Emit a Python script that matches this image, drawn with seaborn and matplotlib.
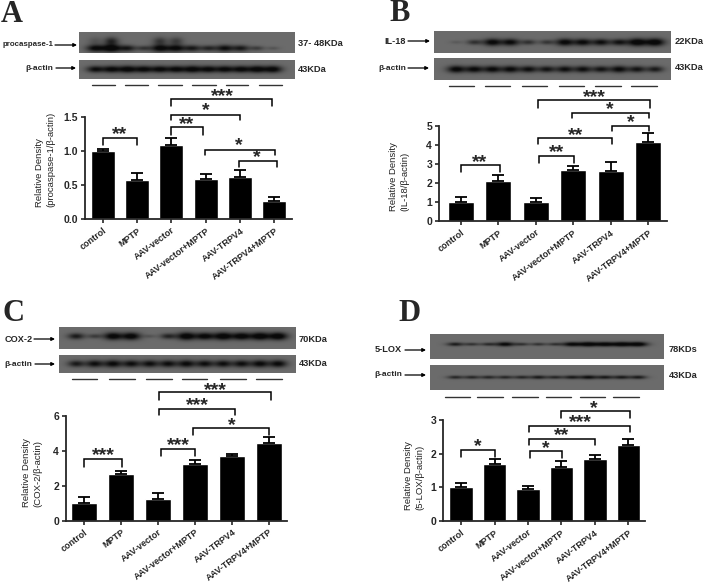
import numpy as np
import pandas as pd
import matplotlib
matplotlib.use('Agg')
import matplotlib.pyplot as plt
import seaborn as sns

sns.set_style('ticks')
plt.rcParams['font.family'] = ['Liberation Sans', 'DejaVu Sans']

W, H = 706, 586

groups = ['control', 'MPTP', 'AAV-vector', 'AAV-vector+MPTP', 'AAV-TRPV4', 'AAV-TRPV4+MPTP']

# bar heights and top of the error bars
a_values = [1.00, 0.575, 1.09, 0.59, 0.62, 0.26]
a_tops = [1.03, 0.67, 1.19, 0.66, 0.72, 0.32]
b_values = [1.00, 2.13, 1.02, 2.66, 2.64, 4.16]
b_tops = [1.28, 2.40, 1.19, 2.92, 3.08, 4.62]
c_values = [1.00, 2.67, 1.22, 3.24, 3.70, 4.44]
c_tops = [1.37, 2.86, 1.58, 3.45, 3.83, 4.76]
d_values = [1.00, 1.68, 0.94, 1.59, 1.84, 2.27]
d_tops = [1.13, 1.83, 1.05, 1.78, 1.95, 2.43]

a_ticks = ['0.0', '0.5', '1.0', '1.5']
b_ticks = ['0', '1', '2', '3', '4', '5']
c_ticks = ['0', '2', '4', '6']
d_ticks = ['0', '1', '2', '3']

# band darkness per lane on the blots
a_bands = [0.85, 1.0, 0.7, 0.45, 0.9, 0.85, 0.7, 0.6, 0.8, 0.7, 0.4, 0.2]
a_smear = [0.2, 0.6, 0, 0, 0.45, 0.4, 0, 0, 0, 0, 0, 0]
a_actin = [0.8, 0.85, 0.9, 0.85, 0.85, 0.85, 0.9, 0.85, 0.85, 0.85, 0.9, 0.9]
b_bands = [0.15, 0.5, 0.9, 0.85, 0.5, 0.45, 0.9, 0.85, 0.8, 0.75, 1.0, 1.0]
b_actin = [0.9, 0.85, 0.85, 0.85, 0.8, 0.75, 0.8, 0.8, 0.75, 0.85, 0.75, 0.7]
c_bands = [0.7, 0.4, 0.95, 0.95, 0.2, 0.6, 1.0, 0.9, 1.0, 0.95, 1.0, 1.0]
c_actin = [0.7, 0.8, 0.85, 0.8, 0.8, 0.8, 0.85, 0.8, 0.8, 0.8, 0.85, 0.85]
d_bands = [0.7, 0.5, 0.55, 0.9, 0.5, 0.5, 0.5, 0.9, 1.0, 0.95, 1.0, 1.0]
d_actin = [0.6, 0.6, 0.6, 0.6, 0.6, 0.7, 0.6, 0.7, 0.8, 0.7, 0.7, 0.7]

# everything below this comment is layout in picture pixels
panels = [
    dict(letter='A', letter_pos=(1, 22), values=a_values, tops=a_tops, ticks=a_ticks, ymax=1.5,
         axes=(85, 292, 116.7, 219), xlim=(-0.52, 5.52),
         ylabel='Relative Density\n(procaspase-1/β-actin)', ylabel_pos=(45, 159),
         blot=(79, 295, 32, 53, 48), actin=(79, 295, 60, 79, 69), lanes=(95, 273),
         bands=a_bands, smear=a_smear, actin_bands=a_actin,
         name='procaspase-1', name_size=5.7, name_pos=(54, 45), arrow=(55, 77),
         actin_pos=(53, 68), actin_arrow=(56, 76),
         kda='37- 48KDa', kda_pos=(298, 44), kda2_pos=(298, 69),
         lines=[(92, 115), (125, 148), (158, 182), (192, 216), (226, 248), (259, 282)], line_y=85,
         brackets=[(171, 272, 99, 106, '***', 222, 93), (171, 240, 115, 120, '*', 206, 107),
                   (171, 203, 127, 135, '**', 187, 121), (103, 137, 138, 145, '**', 120, 131),
                   (205, 275, 150, 155, '*', 239, 142), (239, 277, 161, 167, '*', 257, 154)]),
    dict(letter='B', letter_pos=(389, 21), values=b_values, tops=b_tops, ticks=b_ticks, ymax=5,
         axes=(439, 667, 126, 221), xlim=(-0.58, 5.5),
         ylabel='Relative Density\n(IL-18/β-actin)', ylabel_pos=(399, 177),
         blot=(434, 671, 31, 53, 42), actin=(434, 671, 58, 80, 69), lanes=(456, 655),
         bands=b_bands, smear=None, actin_bands=b_actin,
         name='IL-18', name_size=6.6, name_pos=(406, 41), arrow=(408, 430),
         actin_pos=(406, 68), actin_arrow=(408, 429),
         kda='22KDa', kda_pos=(675, 41), kda2_pos=(675, 68),
         lines=[(449, 474), (485, 510), (522, 547), (559, 584), (595, 621), (631, 657)], line_y=86,
         brackets=[(538, 650, 100, 108, '***', 594, 94), (572, 649, 113, 118, '*', 610, 106),
                   (612, 649, 126, 131, '*', 631, 119), (538, 612, 138, 144, '**', 576, 132),
                   (539, 574, 156, 163, '**', 557, 149), (461, 500, 165, 172, '**', 480, 159)]),
    dict(letter='C', letter_pos=(2, 321), values=c_values, tops=c_tops, ticks=c_ticks, ymax=6,
         axes=(66, 287, 415.7, 520.7), xlim=(-0.49, 5.49),
         ylabel='Relative Density\n(COX-2/β-actin)', ylabel_pos=(32, 473),
         blot=(59, 296, 327, 349, 336), actin=(59, 296, 355, 373, 364), lanes=(76, 278),
         bands=c_bands, smear=None, actin_bands=c_actin,
         name='COX-2', name_size=6.6, name_pos=(33, 339), arrow=(34, 55),
         actin_pos=(32, 364), actin_arrow=(35, 55),
         kda='70KDa', kda_pos=(299, 339), kda2_pos=(299, 364),
         lines=[(72, 97), (109, 135), (146, 172), (182, 207), (220, 246), (256, 282)], line_y=379,
         brackets=[(159, 271, 392, 400, '***', 215, 387), (159, 235, 409, 415, '***', 197, 402),
                   (193, 269, 428, 435, '*', 232, 422), (161, 195, 449, 456, '***', 178, 442),
                   (84, 122, 459, 467, '***', 103, 452)]),
    dict(letter='D', letter_pos=(398, 321), values=d_values, tops=d_tops, ticks=d_ticks, ymax=3,
         axes=(443, 645, 420, 521), xlim=(-0.54, 5.5),
         ylabel='Relative Density\n(5-LOX/β-actin)', ylabel_pos=(414, 476),
         blot=(430, 664, 334, 359, 344), actin=(430, 664, 365, 390, 377), lanes=(455, 638),
         bands=d_bands, smear=None, actin_bands=d_actin,
         name='5-LOX', name_size=6.6, name_pos=(402, 350), arrow=(405, 426),
         actin_pos=(402, 375), actin_arrow=(405, 426),
         kda='78KDs', kda_pos=(669, 350), kda2_pos=(669, 376),
         lines=[(445, 470), (477, 503), (512, 538), (546, 571), (580, 605), (613, 639)], line_y=397,
         brackets=[(561, 630, 411, 418, '*', 594, 405), (529, 630, 426, 432, '***', 580, 419),
                   (529, 595, 439, 445, '**', 562, 432), (530, 562, 451, 458, '*', 546, 445),
                   (461, 495, 450, 457, '*', 478, 443)]),
]


def px_axes(fig, x0, x1, y0, y1):
    return fig.add_axes([x0 / W, 1 - y1 / H, (x1 - x0) / W, (y1 - y0) / H])


# Paint one blot strip from its lane darkness list
def draw_blot(fig, box, lanes, bands, smear=None, thin=1.0, bg=0.42):
    x0, x1, y0, y1, band_y = box
    ax = px_axes(fig, x0, x1, y0, y1)
    xs = np.arange(x0, x1, 0.5)
    ys = np.arange(y0, y1, 0.5)
    xx, yy = np.meshgrid(xs, ys)
    dark = np.zeros_like(xx)
    centers = np.linspace(lanes[0], lanes[1], len(bands))
    for i, c in enumerate(centers):
        s = bands[i]
        dark += s * np.exp(-((xx - c) / (5.5 + 4 * s)) ** 2 - ((yy - band_y) / ((1.2 + 2.6 * s) * thin)) ** 2)
        if smear is not None:
            dark += smear[i] * np.exp(-((xx - c) / 7) ** 2 - ((yy - band_y + 7) / 4) ** 2)
    img = bg * (1 - np.clip(dark * 1.1, 0, 0.9))
    ax.imshow(img, cmap='gray', vmin=0, vmax=1, aspect='auto', interpolation='bilinear')
    ax.set_axis_off()


fig = plt.figure(figsize=(W / 100, H / 100), dpi=100)

for p in panels:
    # bar chart
    x0, x1, y0, y1 = p['axes']
    ax = px_axes(fig, x0, x1, y0, y1)
    df = pd.DataFrame({'group': groups, 'value': p['values']})
    sns.barplot(data=df, x='group', y='value', color='black', saturation=1, width=0.7,
                errorbar=None, ax=ax)
    errs = np.array(p['tops']) - np.array(p['values'])
    ax.errorbar(range(len(groups)), p['values'], yerr=[np.zeros(6), errs], fmt='none',
                ecolor='black', elinewidth=1.3, capsize=4.5, capthick=1.3)
    ax.set_xlim(*p['xlim'])
    ax.set_ylim(0, p['ymax'])
    ax.set_yticks(np.linspace(0, p['ymax'], len(p['ticks'])))
    ax.set_yticklabels(p['ticks'], fontsize=7.5, fontweight='bold')
    ax.set_xticks(range(len(groups)))
    ax.set_xticklabels(groups, fontsize=6.5, fontweight='bold', rotation=37, ha='right',
                       rotation_mode='anchor')
    ax.set_xlabel('')
    ax.set_ylabel('')
    ax.tick_params(axis='both', length=3, width=1.2, pad=2)
    sns.despine(ax=ax)
    ax.spines['left'].set_linewidth(1.3)
    ax.spines['bottom'].set_linewidth(1.3)

    # blots
    thin = 0.6 if p['letter'] == 'D' else 1.0
    draw_blot(fig, p['blot'], p['lanes'], p['bands'], p['smear'], thin)
    draw_blot(fig, p['actin'], p['lanes'], p['actin_bands'], None, thin)

# overlay in picture pixels for the labels, arrows and brackets
ov = fig.add_axes([0, 0, 1, 1], facecolor='none')
ov.set_xlim(0, W)
ov.set_ylim(H, 0)
ov.set_axis_off()

for p in panels:
    ov.text(*p['letter_pos'], p['letter'], family='Liberation Serif', fontweight='bold',
            fontsize=22, ha='left', va='baseline')
    ov.text(*p['ylabel_pos'], p['ylabel'], rotation=90, fontsize=6.8, ha='center', va='center',
            multialignment='left', color='#222222', linespacing=1.3)
    ov.text(*p['name_pos'], p['name'], fontsize=p['name_size'], fontweight='bold', ha='right', va='center')
    ov.text(*p['actin_pos'], 'β-actin', fontsize=6, fontweight='bold', ha='right', va='center')
    ov.text(*p['kda_pos'], p['kda'], fontsize=6.7, fontweight='bold', ha='left', va='center')
    ov.text(*p['kda2_pos'], '43KDa', fontsize=6.7, fontweight='bold', ha='left', va='center')
    for (a0, a1), yy in [(p['arrow'], p['name_pos'][1]), (p['actin_arrow'], p['actin_pos'][1])]:
        ov.annotate('', xy=(a1, yy), xytext=(a0, yy),
                    arrowprops=dict(arrowstyle='-|>', color='black', lw=0.9, mutation_scale=5,
                                    shrinkA=0, shrinkB=0))
    for lx0, lx1 in p['lines']:
        ov.plot([lx0, lx1], [p['line_y'], p['line_y']], color='#333333', lw=1.0)
    for bx0, bx1, top, bottom, stars, sx, sy in p['brackets']:
        ov.plot([bx0, bx0, bx1, bx1], [bottom, top, top, bottom], color='black', lw=1.1,
                solid_joinstyle='miter')
        ov.text(sx, sy + 8, stars, fontsize=14, fontweight='bold', ha='center', va='baseline')

plt.savefig('out.png', dpi=100)
